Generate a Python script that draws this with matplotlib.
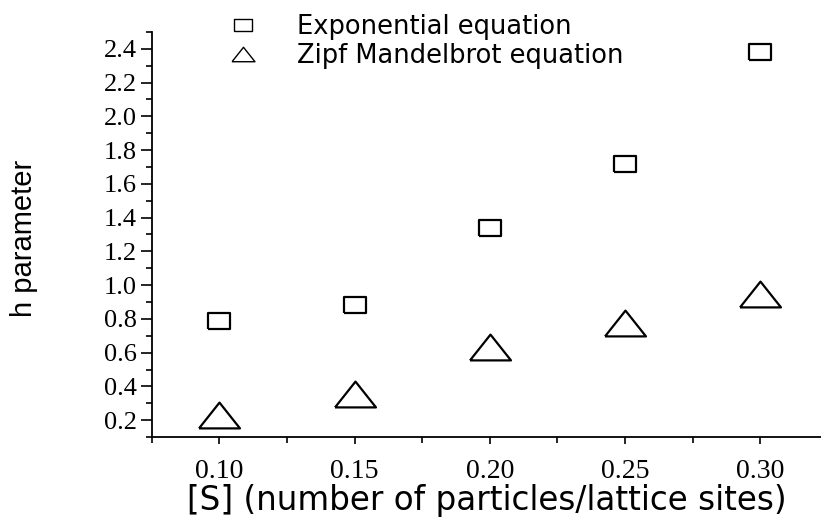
import numpy as np
import matplotlib
matplotlib.use("Agg")
import matplotlib.pyplot as plt
from matplotlib.lines import Line2D
from matplotlib.ticker import MultipleLocator

# data
conc      = [0.10, 0.15, 0.20, 0.25, 0.30]
h_exp     = [0.79, 0.88, 1.34, 1.72, 2.38]
h_zipf    = [0.23, 0.355, 0.635, 0.775, 0.945]
x_ticks   = [0.10, 0.15, 0.20, 0.25, 0.30]
y_ticks   = [0.2, 0.4, 0.6, 0.8, 1.0, 1.2, 1.4, 1.6, 1.8, 2.0, 2.2, 2.4]
labels    = ["Exponential equation", "Zipf Mandelbrot equation"]

SANS  = ["Liberation Sans", "DejaVu Sans"]
WIDE  = ["DejaVu Sans"]
SERIF = ["Liberation Serif", "DejaVu Serif"]

# wide markers (Origin style): flat rectangle and flat triangle
rect_m = [(-1, -0.74), (1, -0.74), (1, 0.74), (-1, 0.74), (-1, -0.74)]
tri_m  = [(-1, -0.63), (1, -0.63), (0, 0.63), (-1, -0.63)]

fig = plt.figure(figsize=(8.21, 5.24), dpi=100)
ax = fig.add_axes([0.185, 0.166, 0.815, 0.773])

ax.plot(conc, h_exp, ls="none", marker=rect_m, ms=16.5, mfc="white",
        mec="black", mew=1.6)
ax.plot(conc, h_zipf, ls="none", marker=tri_m, ms=29.5, mfc="white",
        mec="black", mew=1.6)

ax.set_xlim(0.075, 0.3225)
ax.set_ylim(0.1, 2.5)
ax.set_xticks(x_ticks)
ax.set_xticklabels([f"{v:.2f}" for v in x_ticks], family=SERIF, fontsize=20)
ax.set_yticks(y_ticks)
ax.set_yticklabels([f"{v:.1f}" for v in y_ticks], family=SERIF, fontsize=19)
ax.xaxis.set_minor_locator(MultipleLocator(0.025))
ax.yaxis.set_minor_locator(MultipleLocator(0.1))

for s in ["top", "right"]:
    ax.spines[s].set_visible(False)
for s in ["left", "bottom"]:
    ax.spines[s].set_linewidth(1.3)

ax.tick_params(axis="y", which="major", length=8, width=1.2, pad=3)
ax.tick_params(axis="y", which="minor", length=4, width=1.2)
ax.tick_params(axis="x", which="major", length=5, width=1.2, pad=11)
ax.tick_params(axis="x", which="minor", length=4, width=1.2)

ax.set_xlabel("[S] (number of particles/lattice sites)", family=WIDE,
              fontsize=23.5, labelpad=0)
fig.text(0.029, 0.545, "h parameter", rotation=90, ha="center", va="center",
         family=SANS, fontsize=21)

handles = [
    Line2D([], [], ls="none", marker=rect_m, ms=12.5, mfc="white",
           mec="black", mew=1.0),
    Line2D([], [], ls="none", marker=tri_m, ms=16.5, mfc="white",
           mec="black", mew=1.0),
]
fig.legend(handles, labels, loc="upper left", bbox_to_anchor=(0.237, 1.018),
           frameon=False, prop={"family": WIDE, "size": 18.5},
           handlelength=1.95, handletextpad=1.15, labelspacing=0.12)

fig.savefig("out.png", dpi=100)
